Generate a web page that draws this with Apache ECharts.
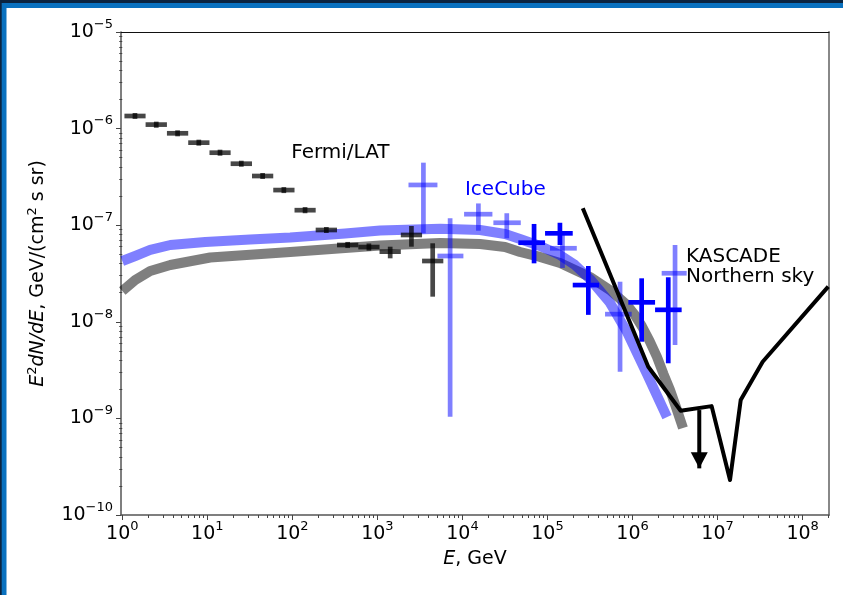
<!DOCTYPE html>
<html>
<head>
<meta charset="utf-8">
<script src="https://cdn.jsdelivr.net/npm/echarts@6/dist/echarts.min.js"></script>
<style>
  html, body { margin: 0; padding: 0; background: #fff; }
  #chart { width: 843px; height: 595px; }
</style>
</head>
<body>
<div id="chart"></div>
<script>
// ---- Fermi/LAT diffuse flux (bin centre, flux, bin edges, error limits) ----
const fermiE    = [1.41, 2.51, 4.47, 7.94, 14.1, 25.1, 44.7, 79.4, 141, 251, 447, 794, 1413, 2512, 4467];
const fermiEmin = [1.06, 1.88, 3.35, 5.96, 10.6, 18.8, 33.5, 59.6, 106, 188, 335, 596, 1059, 1884, 3350];
const fermiEmax = [1.88, 3.35, 5.96, 10.6, 18.8, 33.5, 59.6, 106, 188, 335, 596, 1059, 1884, 3350, 5957];
const fermiFlux = [1.35e-6, 1.10e-6, 8.94e-7, 7.15e-7, 5.63e-7, 4.33e-7, 3.23e-7, 2.31e-7, 1.43e-7, 8.92e-8, 6.24e-8, 5.94e-8, 5.32e-8, 7.92e-8, 4.26e-8];
const fermiLo   = [1.26e-6, 1.02e-6, 8.32e-7, 6.66e-7, 5.24e-7, 4.03e-7, 3.01e-7, 2.15e-7, 1.33e-7, 8.30e-8, 5.80e-8, 5.45e-8, 4.54e-8, 5.99e-8, 1.82e-8];
const fermiHi   = [1.45e-6, 1.18e-6, 9.60e-7, 7.68e-7, 6.05e-7, 4.65e-7, 3.47e-7, 2.48e-7, 1.54e-7, 9.58e-8, 6.71e-8, 6.47e-8, 5.99e-8, 9.81e-8, 6.50e-8];

// ---- IceCube, earlier unfolding (faint crosses) ----
const icE    = [3475, 7160, 15400, 33200, 1.50e5, 7.13e5, 3.16e6];
const icEmin = [2320, 5080, 10450, 23100, 1.07e5, 4.75e5, 2.20e6];
const icEmax = [5080, 10260, 22500, 48500, 2.21e5, 9.77e5, 4.33e6];
const icFlux = [2.61e-7, 4.80e-8, 1.30e-7, 1.06e-7, 5.77e-8, 1.20e-8, 3.18e-8];
const icLo   = [8.24e-8, 1.04e-9, 8.77e-8, 7.32e-8, 3.61e-8, 3.04e-9, 5.75e-9];
const icHi   = [4.44e-7, 1.18e-7, 1.68e-7, 1.33e-7, 7.92e-8, 2.60e-8, 6.24e-8];

// ---- IceCube, high-energy points (solid crosses) ----
const icbE    = [6.95e4, 1.40e5, 3.02e5, 1.28e6, 2.63e6];
const icbEmin = [4.54e4, 9.36e4, 1.98e5, 8.92e5, 1.84e6];
const icbEmax = [9.36e4, 1.98e5, 4.04e5, 1.84e6, 3.78e6];
const icbFlux = [6.59e-8, 8.24e-8, 2.40e-8, 1.59e-8, 1.33e-8];
const icbLo   = [4.03e-8, 6.24e-8, 1.18e-8, 6.22e-9, 3.72e-9];
const icbHi   = [1.03e-7, 1.06e-7, 3.78e-8, 2.82e-8, 2.89e-8];

// ---- Model curves ----
const blueBandE    = [1, 1.42, 2.13, 3.67, 9.45, 31.9, 94.3, 418, 1077, 5461, 16120, 31700, 47570, 81750, 1.405e5, 2.108e5, 3.163e5, 5.434e5, 8.61e5, 1.479e6, 2.541e6];
const blueBandFlux = [4.26e-8, 4.80e-8, 5.54e-8, 6.24e-8, 6.70e-8, 7.11e-8, 7.46e-8, 8.21e-8, 8.81e-8, 9.20e-8, 8.92e-8, 8.11e-8, 7.20e-8, 6.09e-8, 4.91e-8, 3.87e-8, 2.77e-8, 1.57e-8, 7.84e-9, 2.88e-9, 1.03e-9];
const grayBandE    = [1, 1.42, 2.13, 3.67, 10.8, 94.3, 418, 1077, 5461, 16120, 31700, 47570, 81750, 1.405e5, 3.163e5, 5.434e5, 8.61e5, 1.054e6, 1.292e6, 1.582e6, 1.939e6, 2.311e6, 2.756e6, 3.285e6, 3.918e6];
const grayBandFlux = [2.08e-8, 2.71e-8, 3.36e-8, 3.87e-8, 4.63e-8, 5.28e-8, 5.81e-8, 6.16e-8, 6.54e-8, 6.39e-8, 5.95e-8, 5.28e-8, 4.69e-8, 4.06e-8, 2.91e-8, 2.13e-8, 1.49e-8, 1.19e-8, 8.94e-9, 6.37e-9, 4.32e-9, 2.88e-9, 1.97e-9, 1.266e-9, 7.96e-10];

// ---- KASCADE northern-sky upper limit ----
const kasE    = [2.60e5, 1.53e6, 3.68e6, 8.51e6, 1.40e7, 1.87e7, 3.39e7, 2.0e8];
const kasFlux = [1.50e-7, 3.43e-9, 1.20e-9, 1.34e-9, 2.30e-10, 1.55e-9, 3.86e-9, 2.31e-8];
const arrowE    = [6.09e6, 6.09e6];
const arrowFlux = [1.22e-9, 3.04e-10];

// ---- Text annotations (data coordinates) ----
const noteText = ['Fermi/LAT', 'IceCube', 'KASCADE\nNorthern sky'];
const noteE    = [97, 1.07e4, 4.25e6];
const noteFlux = [5.66e-7, 2.31e-7, 3.74e-8];

// ---- Axes (decades) ----
const xTickExps = [0, 1, 2, 3, 4, 5, 6, 7, 8];
const yTickExps = [-10, -9, -8, -7, -6, -5];
const xRange = [-0.015, 8.31];
const yRange = [-10, -5];

const FONT = 'DejaVu Sans';
const L = Math.log10;

function minorTicks(lo, hi) {
  const out = [];
  for (let n = Math.floor(lo); n <= Math.ceil(hi); n++) {
    for (let k = 2; k <= 9; k++) {
      const v = n + Math.log10(k);
      if (v >= lo && v <= hi) out.push(v);
    }
  }
  return out;
}

function powLabel(v) {
  const e = Math.round(v);
  const s = e < 0 ? '\u2212' + (-e) : String(e);
  return '{b|10}{s|' + s + '}';
}

const tickRich = {
  b: { fontFamily: FONT, fontSize: 19, lineHeight: 28, color: '#000' },
  s: { fontFamily: FONT, fontSize: 13, lineHeight: 13, verticalAlign: 'top', color: '#000' }
};

function crossSeries(name, E, Emin, Emax, F, lo, hi, color, width, z) {
  return {
    name, type: 'custom', z, clip: true,
    xAxisIndex: 0, yAxisIndex: 0,
    data: E.map((e, i) => [L(e), L(F[i]), L(Emin[i]), L(Emax[i]), L(lo[i]), L(hi[i])]),
    encode: { x: [0, 2, 3], y: [1, 4, 5] },
    renderItem: (params, api) => {
      const yv = api.value(1), xv = api.value(0);
      const l = api.coord([api.value(2), yv]);
      const r = api.coord([api.value(3), yv]);
      const b = api.coord([xv, api.value(4)]);
      const t = api.coord([xv, api.value(5)]);
      return {
        type: 'group',
        children: [
          { type: 'line', shape: { x1: l[0], y1: l[1], x2: r[0], y2: r[1] }, style: { stroke: color, lineWidth: width } },
          { type: 'line', shape: { x1: b[0], y1: b[1], x2: t[0], y2: t[1] }, style: { stroke: color, lineWidth: width } }
        ]
      };
    }
  };
}

function band(E, F, color, z) {
  return {
    type: 'line', z, symbol: 'none', clip: true, smooth: false,
    data: E.map((e, i) => [L(e), L(F[i])]),
    lineStyle: { width: 10, color, cap: 'butt', join: 'round' }
  };
}

// free-standing text placed at a data coordinate
function note(i, color) {
  return {
    type: 'scatter', z: 8, symbolSize: 0, silent: true,
    data: [[L(noteE[i]), L(noteFlux[i])]],
    itemStyle: { color, opacity: 1 },
    label: {
      show: true, position: 'right', distance: 0, opacity: 1,
      fontFamily: FONT, fontSize: 20, lineHeight: 20, align: 'left',
      color, textBorderWidth: 0,
      formatter: () => noteText[i]
    }
  };
}

const chart = echarts.init(document.getElementById('chart'), null, { renderer: 'canvas' });

const option = {
  animation: false,
  backgroundColor: '#fff',
  textStyle: { fontFamily: FONT },
  grid: { left: 121, right: 14, top: 32, bottom: 80, containLabel: false },
  graphic: [
    { type: 'rect', shape: { x: 0, y: 0, width: 843, height: 8 }, style: { fill: '#0a71bf' }, z: 100 },
    { type: 'rect', shape: { x: 0, y: 0, width: 843, height: 3 }, style: { fill: '#0b2440' }, z: 101 },
    { type: 'rect', shape: { x: 0, y: 0, width: 6.5, height: 595 }, style: { fill: '#0a71bf' }, z: 100 },
    { type: 'rect', shape: { x: 0, y: 0, width: 1.7, height: 595 }, style: { fill: '#0b2440' }, z: 101 }
  ],
  xAxis: [
    {
      type: 'value', position: 'bottom', min: xRange[0], max: xRange[1],
      axisLine: { show: true, onZero: false, lineStyle: { color: '#555', width: 1.5 } },
      axisTick: { show: true, inside: false, length: 5, customValues: xTickExps, lineStyle: { color: '#444', width: 1 } },
      axisLabel: { show: true, customValues: xTickExps, formatter: powLabel, rich: tickRich, margin: 5 },
      splitLine: { show: false },
      name: '{i|E}, GeV', nameLocation: 'middle', nameGap: 27,
      nameTextStyle: { fontFamily: FONT, fontSize: 19, color: '#000', lineHeight: 22,
        rich: { i: { fontFamily: FONT, fontSize: 19, fontStyle: 'italic', color: '#000', lineHeight: 22 } } }
    },
    {
      type: 'value', position: 'bottom', min: xRange[0], max: xRange[1],
      axisLine: { show: false },
      axisTick: { show: true, inside: false, length: 3, customValues: minorTicks(xRange[0], xRange[1]), lineStyle: { color: '#444', width: 1 } },
      axisLabel: { show: false }, splitLine: { show: false }
    },
    {
      type: 'value', position: 'top', min: xRange[0], max: xRange[1],
      axisLine: { show: true, onZero: false, lineStyle: { color: '#111', width: 1 } },
      axisTick: { show: false }, axisLabel: { show: false }, splitLine: { show: false }
    }
  ],
  yAxis: [
    {
      type: 'value', position: 'left', min: yRange[0], max: yRange[1], interval: 1,
      axisLine: { show: true, onZero: false, lineStyle: { color: '#555', width: 1.5 } },
      axisTick: { show: true, inside: false, length: 5, lineStyle: { color: '#444', width: 1 } },
      axisLabel: { show: true, formatter: powLabel, rich: tickRich, margin: 8 },
      splitLine: { show: false },
      name: '{i|E}{s|2}{i|dN/dE}{r|, GeV/(cm}{s|2}{r| s sr)}',
      nameLocation: 'middle', nameGap: 70, nameRotate: 90,
      nameTextStyle: {
        fontFamily: FONT, fontSize: 19, color: '#000', lineHeight: 24,
        rich: {
          i: { fontFamily: FONT, fontSize: 19, fontStyle: 'italic', color: '#000', lineHeight: 24 },
          r: { fontFamily: FONT, fontSize: 19, color: '#000', lineHeight: 24 },
          s: { fontFamily: FONT, fontSize: 13, color: '#000', lineHeight: 13, verticalAlign: 'top' }
        }
      }
    },
    {
      type: 'value', position: 'left', min: yRange[0], max: yRange[1],
      axisLine: { show: false },
      axisTick: { show: true, inside: false, length: 3, customValues: minorTicks(yRange[0], yRange[1]), lineStyle: { color: '#444', width: 1 } },
      axisLabel: { show: false }, splitLine: { show: false }
    },
    {
      type: 'value', position: 'right', min: yRange[0], max: yRange[1],
      axisLine: { show: true, onZero: false, lineStyle: { color: '#888', width: 2 } },
      axisTick: { show: false }, axisLabel: { show: false }, splitLine: { show: false }
    }
  ],
  series: [
    band(grayBandE, grayBandFlux, 'rgba(0,0,0,0.5)', 2),
    band(blueBandE, blueBandFlux, 'rgba(0,0,255,0.5)', 3),
    crossSeries('Fermi/LAT', fermiE, fermiEmin, fermiEmax, fermiFlux, fermiLo, fermiHi, 'rgba(0,0,0,0.72)', 4.7, 4),
    crossSeries('IceCube', icE, icEmin, icEmax, icFlux, icLo, icHi, 'rgba(0,0,255,0.5)', 4.7, 5),
    crossSeries('IceCube HE', icbE, icbEmin, icbEmax, icbFlux, icbLo, icbHi, '#0000ff', 4.7, 6),
    {
      name: 'KASCADE', type: 'line', z: 7, symbol: 'none', clip: true,
      data: kasE.map((e, i) => [L(e), L(kasFlux[i])]),
      lineStyle: { width: 4, color: '#000', join: 'round', cap: 'butt' }
    },
    {
      name: 'KASCADE limit', type: 'line', z: 7, clip: true,
      data: arrowE.map((e, i) => i === arrowE.length - 1
        ? { value: [L(e), L(arrowFlux[i])], symbol: 'triangle', symbolSize: [17, 16], symbolRotate: 180, symbolOffset: [0, -8] }
        : { value: [L(e), L(arrowFlux[i])], symbol: 'none' }),
      lineStyle: { width: 4, color: '#000', cap: 'butt' },
      itemStyle: { color: '#000' }
    },
    note(0, '#000000'),
    note(1, '#0000ff'),
    note(2, '#000000')
  ]
};

chart.setOption(option);
</script>
</body>
</html>
